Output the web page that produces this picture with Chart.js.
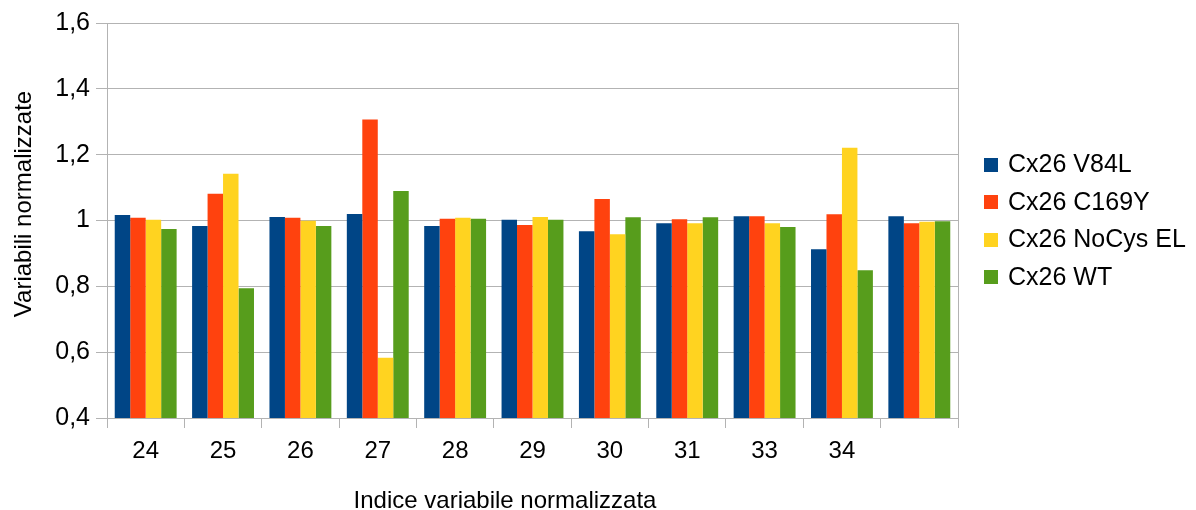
<!DOCTYPE html>
<html>
<head>
<meta charset="utf-8">
<script src="https://cdn.jsdelivr.net/npm/chart.js@4/dist/chart.umd.min.js"></script>
<style>
  html, body { margin: 0; padding: 0; background: #ffffff; }
  #wrap { width: 1196px; height: 510px; position: relative; }
</style>
</head>
<body>
<div id="wrap"><canvas id="chart" width="1196" height="510"></canvas></div>
<script>
// Category labels (last group has no label)
const categories = ['24', '25', '26', '27', '28', '29', '30', '31', '33', '34', ''];

// Normalised values per construct
const v84l    = [1.017, 0.983, 1.011, 1.020, 0.983, 1.002, 0.967, 0.992, 1.013, 0.913, 1.013];
const c169y   = [1.008, 1.081, 1.008, 1.307, 1.005, 0.986, 1.065, 1.004, 1.013, 1.019, 0.992];
const noCysEl = [1.002, 1.142, 0.999, 0.583, 1.008, 1.011, 0.958, 0.992, 0.992, 1.221, 0.996];
const wt      = [0.974, 0.794, 0.983, 1.090, 1.005, 1.002, 1.010, 1.010, 0.980, 0.849, 0.998];

const seriesNames = ['Cx26 V84L', 'Cx26 C169Y', 'Cx26 NoCys EL', 'Cx26 WT'];
const seriesColors = ['#004586', '#ff420e', '#ffd320', '#579d1c'];

// Y tick values (Italian decimal comma)
const yTickValues = [0.4, 0.6, 0.8, 1.0, 1.2, 1.4, 1.6];

const xTitle = 'Indice variabile normalizzata';
const yTitle = 'Variabili normalizzate';

const FONT = "'Liberation Sans', Arial, sans-serif";
const GRID = '#b3b3b3';

function fmt(v) {
  const r = Math.round(v * 10) / 10;
  return String(r).replace('.', ',');
}

// Frame on top/right of the plot, axis titles and a legend at the right side
const framePlugin = {
  id: 'frameAndLegend',
  afterDraw(chart) {
    const { ctx, chartArea } = chart;
    ctx.save();
    ctx.strokeStyle = GRID;
    ctx.lineWidth = 1;
    ctx.beginPath();
    const r = Math.round(chartArea.right) + 0.5;
    const t = Math.round(chartArea.top) + 0.5;
    ctx.moveTo(Math.round(chartArea.left) + 0.5, t);
    ctx.lineTo(r, t);
    ctx.lineTo(r, Math.round(chartArea.bottom) + 0.5);
    ctx.stroke();

    // axis titles
    ctx.fillStyle = '#000000';
    ctx.font = '24px ' + FONT;
    ctx.textAlign = 'center';
    ctx.textBaseline = 'middle';
    ctx.fillText(xTitle, 505, 501);
    ctx.save();
    ctx.translate(24, 204);
    ctx.rotate(-Math.PI / 2);
    ctx.fillText(yTitle, 0, 0);
    ctx.restore();

    // legend
    const ds = chart.data.datasets;
    const rowGap = 37.5;
    const midY = (chartArea.top + chartArea.bottom) / 2;
    const startY = midY - rowGap * (ds.length - 1) / 2;
    ctx.font = '25px ' + FONT;
    ctx.textBaseline = 'middle';
    ctx.textAlign = 'left';
    ds.forEach((d, i) => {
      const cy = startY + i * rowGap;
      ctx.fillStyle = d.backgroundColor;
      ctx.fillRect(984, Math.round(cy - 6.5), 14, 14);
      ctx.fillStyle = '#000000';
      ctx.fillText(d.label, 1008, cy + 1);
    });
    ctx.restore();
  }
};

const seriesData = [v84l, c169y, noCysEl, wt];

new Chart(document.getElementById('chart'), {
  type: 'bar',
  data: {
    labels: categories,
    datasets: seriesData.map((vals, i) => ({
      label: seriesNames[i],
      data: vals,
      backgroundColor: seriesColors[i],
      borderWidth: 0,
      barPercentage: 1.0,
      categoryPercentage: 0.8
    }))
  },
  options: {
    responsive: false,
    animation: false,
    devicePixelRatio: 1,
    layout: { padding: { top: 23, right: 238, left: 0, bottom: 0 } },
    plugins: {
      legend: { display: false },
      tooltip: { enabled: false }
    },
    scales: {
      x: {
        grid: {
          display: true,
          offset: true,
          drawOnChartArea: false,
          drawTicks: true,
          tickLength: 10,
          color: GRID
        },
        border: { display: true, color: GRID, width: 1 },
        ticks: {
          color: '#000000',
          font: { family: FONT, size: 24 },
          padding: 9,
          maxRotation: 0,
          autoSkip: false
        },
        title: { display: false },
        afterFit(scale) { scale.height = 92; }
      },
      y: {
        min: 0.4,
        max: 1.6,
        afterBuildTicks(scale) {
          scale.ticks = yTickValues.map(v => ({ value: v }));
        },
        grid: {
          color: GRID,
          tickLength: 11,
          drawTicks: true
        },
        border: { display: true, color: GRID, width: 1 },
        ticks: {
          color: '#000000',
          font: { family: FONT, size: 25 },
          padding: 6,
          callback: (v) => fmt(v)
        },
        title: { display: false },
        afterFit(scale) { scale.width = 107; }
      }
    }
  },
  plugins: [framePlugin]
});
</script>
</body>
</html>
